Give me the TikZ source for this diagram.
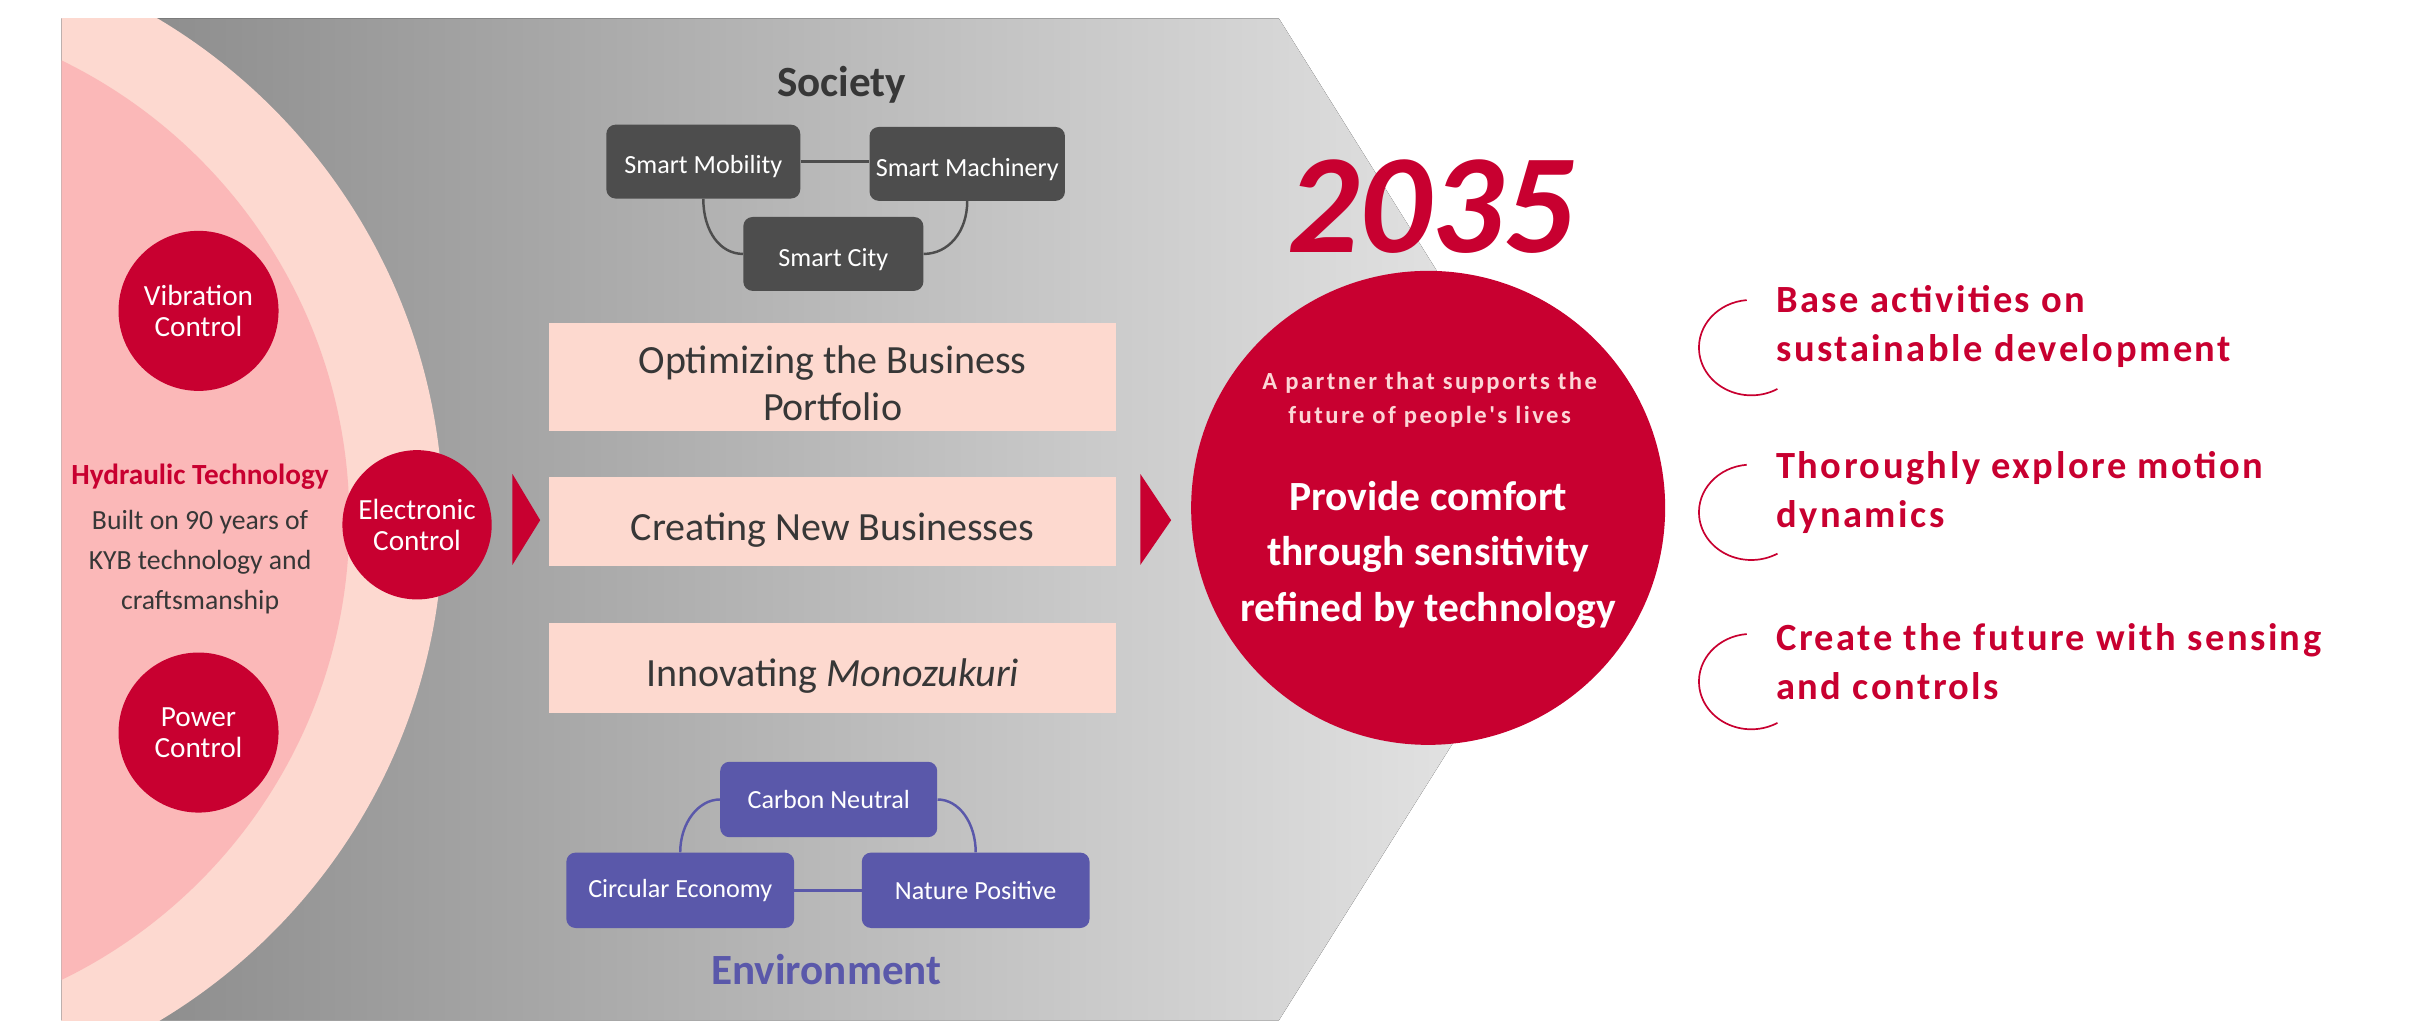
\documentclass[tikz,border=0pt]{standalone}
\usepackage{fontspec}
\setmainfont{Carlito}
\newfontfamily\spacedA[LetterSpace=6.5]{Carlito}
\newfontfamily\spacedB[LetterSpace=10]{Carlito}
\definecolor{kred}{RGB}{200,0,48}
\definecolor{pinkL}{RGB}{253,217,208}
\definecolor{pinkD}{RGB}{251,184,184}
\definecolor{boxpink}{RGB}{253,217,207}
\definecolor{dbox}{RGB}{77,77,77}
\definecolor{pbox}{RGB}{90,88,170}
\definecolor{txtdark}{RGB}{55,55,55}
\definecolor{gL}{RGB}{136,136,136}
\definecolor{gR}{RGB}{234,234,234}
\definecolor{softpink}{RGB}{252,214,214}
\tikzset{
  redc/.style={circle, fill=kred, text=white, inner sep=0pt, align=center, font=\fontsize{19}{20.5}\selectfont},
  pinkbox/.style={rectangle, fill=boxpink, text=txtdark, minimum width=368pt, align=center, inner sep=0pt, font=\fontsize{26}{31}\selectfont},
  darkbox/.style={rectangle, rounded corners=6pt, fill=dbox, text=white, inner sep=0pt, minimum height=48pt, text height=19.5pt, text depth=3.5pt, font=\fontsize{17}{20}\selectfont},
  purpbox/.style={rectangle, rounded corners=6pt, fill=pbox, text=white, inner sep=0pt, minimum height=49pt, font=\fontsize{17}{20}\selectfont},
  darkline/.style={draw=dbox, line width=1.6pt},
  purpline/.style={draw=pbox, line width=1.6pt},
  goaltext/.style={text=kred, align=left, anchor=west, inner sep=0pt, font=\spacedA\bfseries\fontsize{25}{32}\selectfont},
  bracket/.style={draw=kred, line width=1.1pt},
  pointer/.style={fill=kred}
}
\begin{document}
\begin{tikzpicture}[x=1pt,y=-1pt]
\useasboundingbox (0,0) rectangle (1566,664);
% grey chevron
\fill[left color=gL, right color=gR] (40,12) -- (831,12) -- (1035,338) -- (831,663) -- (40,663) -- cycle;
% pink rings
\begin{scope}
  \clip (40,12) rectangle (900,663);
  \fill[pinkL] (-91,338) circle[radius=379pt];
  \fill[pinkD] (-105,338) circle[radius=332pt];
\end{scope}
% core technologies
\node[redc, minimum size=104pt] (vib) at (129,202) {Vibration\\Control};
\node[redc, minimum size=104pt] (pow) at (129,476) {Power\\Control};
\node[redc, minimum size=97pt] (ele) at (271,341) {Electronic\\Control};
\node[text=kred, inner sep=0pt, font=\bfseries\fontsize{19}{22}\selectfont] (hyd) at (130,310) {Hydraulic Technology};
\node[text=txtdark, align=center, inner sep=0pt, font=\fontsize{18}{26}\selectfont] (built) at (130,365) {Built on 90 years of\\KYB technology and\\craftsmanship};
% pointers
\fill[pointer] (333,308) -- (351,338) -- (333,367) -- cycle;
\fill[pointer] (741,308) -- (761,338) -- (741,367) -- cycle;
% Society
\node[text=txtdark, inner sep=0pt, font=\bfseries\fontsize{28}{30}\selectfont] (soc) at (547,55) {Society};
\node[darkbox, minimum width=126pt] (mob) at (457,105) {Smart Mobility};
\node[darkbox, minimum width=127pt] (mach) at (628.5,106.5) {Smart Machinery};
\node[darkbox, minimum width=117pt] (city) at (541.5,165) {Smart City};
\draw[darkline] (mob.east) -- (mach.west |- mob.east);
\draw[darkline] (mob.south) .. controls +(0,21) and +(-15,0) .. (city.west);
\draw[darkline] (mach.south) .. controls +(0,20) and +(16,0) .. (city.east);
% strategy boxes
\node[pinkbox, minimum height=70pt] (b1) at (541,245) {\rule{0pt}{26pt}Optimizing the Business\\Portfolio};
\node[pinkbox, minimum height=58pt, text height=29pt, text depth=5pt] (b2) at (541,339) {Creating New Businesses};
\node[pinkbox, minimum height=58pt, text height=29pt, text depth=5pt] (b3) at (541,434) {Innovating \textit{Monozukuri}};
% Environment
\node[purpbox, minimum width=141pt] (carb) at (538.5,519.5) {Carbon Neutral};
\node[purpbox, minimum width=148pt] (circ) at (442,578.5) {Circular Economy};
\node[purpbox, minimum width=148pt] (nat) at (634,578.5) {Nature Positive};
\draw[purpline] (circ.east) -- (nat.west);
\draw[purpline] (carb.west) .. controls +(-14,0) and +(0,-19) .. (circ.north);
\draw[purpline] (carb.east) .. controls +(14,0) and +(0,-19) .. (nat.north);
\node[text=pbox, inner sep=0pt, font=\bfseries\fontsize{28}{30}\selectfont] (env) at (537,630) {Environment};
% 2035 goal
\node[text=kred, inner sep=0pt, font=\bfseries\itshape\fontsize{92}{92}\selectfont] (year) at (930,134) {2035};
\node[circle, fill=kred, minimum size=308pt, inner sep=0pt] (goal) at (928,330) {};
\node[text=softpink, align=center, inner sep=0pt, font=\spacedB\bfseries\fontsize{16}{22}\selectfont] (partner) at (929,260) {A partner that supports the\\future of people's lives};
\node[text=white, align=center, inner sep=0pt, font=\bfseries\fontsize{27}{36}\selectfont] (vision) at (928,360.5) {Provide comfort\\through sensitivity\\refined by technology};
% right-hand goals
\node[goaltext] (g1) at (1154,212) {Base activities on\\sustainable development};
\node[goaltext] (g2) at (1154,320) {Thoroughly explore motion\\dynamics};
\node[goaltext] (g3) at (1154,430) {Create the future with sensing\\and controls};
\draw[bracket] (1135,195) arc[start angle=95, end angle=300, x radius=34pt, y radius=31pt];
\draw[bracket] (1135,302) arc[start angle=95, end angle=300, x radius=34pt, y radius=31pt];
\draw[bracket] (1135,412) arc[start angle=95, end angle=300, x radius=34pt, y radius=31pt];
\end{tikzpicture}
\end{document}
